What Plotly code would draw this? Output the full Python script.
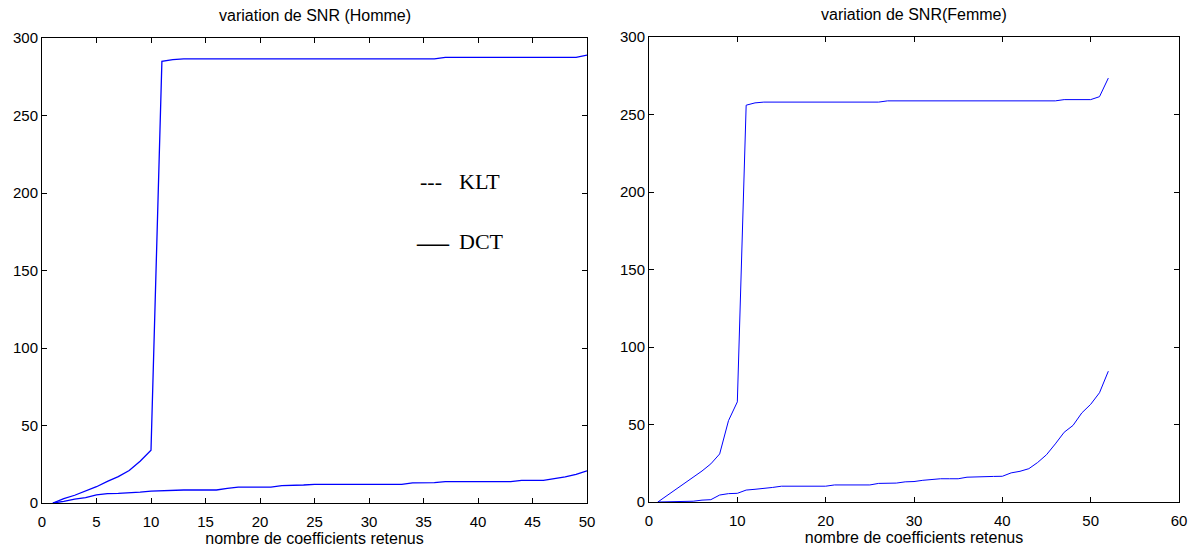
import plotly.graph_objects as go

# ---------------- data ----------------
coef_homme = [1, 2, 3, 4, 5, 6, 7, 8, 9, 10, 11, 12, 13, 14, 15, 16, 17, 18, 19, 20,
              21, 22, 23, 24, 25, 26, 27, 28, 29, 30, 31, 32, 33, 34, 35, 36, 37, 38, 39, 40,
              41, 42, 43, 44, 45, 46, 47, 48, 49, 50]
snr_homme_klt = [0, 2.8, 5, 7.5, 10.5, 14, 17, 21, 27, 34,
                 285, 286, 286.5, 286.5, 286.5, 286.5, 286.5, 286.5, 286.5, 286.5,
                 286.5, 286.5, 286.5, 286.5, 286.5, 286.5, 286.5, 286.5, 286.5, 286.5,
                 286.5, 286.5, 286.5, 286.5, 286.5, 286.5, 287.5, 287.5, 287.5, 287.5,
                 287.5, 287.5, 287.5, 287.5, 287.5, 287.5, 287.5, 287.5, 287.5, 289]
snr_homme_dct = [0, 1, 2.5, 3.5, 5.3, 6, 6.2, 6.5, 7, 7.7,
                 8, 8.4, 8.4, 8.4, 8.4, 8.4, 9.5, 10.3, 10.3, 10.3,
                 10.3, 11.2, 11.2, 11.6, 12, 12, 12, 12, 12, 12,
                 12, 12, 12, 13, 13.1, 13.1, 13.8, 13.8, 13.8, 13.8,
                 13.8, 13.8, 13.8, 14.6, 14.6, 14.6, 15.7, 16.8, 18.5, 20.8]

coef_femme = [1, 2, 3, 4, 5, 6, 7, 8, 9, 10, 11, 12, 13, 14, 15, 16, 17, 18, 19, 20,
              21, 22, 23, 24, 25, 26, 27, 28, 29, 30, 31, 32, 33, 34, 35, 36, 37, 38, 39, 40,
              41, 42, 43, 44, 45, 46, 47, 48, 49, 50, 51, 52]
snr_femme_klt = [0, 4, 8, 12, 15.5, 20, 24.6, 31, 52.5, 64.6,
                 256, 257.5, 258, 258, 258, 258, 258, 258, 258, 258,
                 258, 258, 258, 258, 258, 258, 258.8, 258.8, 258.8, 258.8,
                 258.8, 258.8, 258.8, 258.8, 258.8, 258.8, 258.8, 258.8, 258.8, 258.8,
                 258.8, 258.8, 258.8, 258.8, 258.8, 258.8, 259.6, 259.6, 259.6, 259.6,
                 261.5, 273.5]
snr_femme_dct = [0, 0.2, 0.3, 0.4, 0.5, 1.2, 1.5, 4.5, 5.4, 5.6,
                 7.7, 8.2, 8.7, 9.4, 10.2, 10.2, 10.2, 10.2, 10.2, 10.2,
                 11, 11, 11, 11, 11, 12, 12, 12.2, 13, 13.2,
                 14, 14.5, 15, 15, 15, 16, 16.3, 16.5, 16.5, 16.6,
                 18.8, 19.8, 21.5, 25.5, 30.5, 37.5, 45, 49.4, 57.5, 63,
                 70.5, 84.4]

titles = ["variation de SNR (Homme)", "variation de SNR(Femme)"]
x_label = "nombre de coefficients retenus"
legend_labels = ["KLT", "DCT"]
x_ticks_homme = [0, 5, 10, 15, 20, 25, 30, 35, 40, 45, 50]
x_ticks_femme = [0, 10, 20, 30, 40, 50, 60]
y_ticks = [0, 50, 100, 150, 200, 250, 300]

# ---------------- layout geometry ----------------
W, H = 1198, 552
def px_x(p): return p / W
def px_y(p): return 1 - p / H

dom_x1 = [px_x(42), px_x(587)]
dom_y1 = [px_y(503), px_y(38)]
dom_x2 = [px_x(649), px_x(1179)]
dom_y2 = [px_y(502), px_y(37)]

blue = "#0000FF"
sans = "Liberation Sans, Arial, sans-serif"
serif = "Liberation Serif, Times New Roman, serif"

fig = go.Figure()
fig.add_trace(go.Scatter(x=coef_homme, y=snr_homme_klt, mode="lines", name="KLT",
                         line=dict(color=blue, width=1.3), xaxis="x", yaxis="y"))
fig.add_trace(go.Scatter(x=coef_homme, y=snr_homme_dct, mode="lines", name="DCT",
                         line=dict(color=blue, width=1.3), xaxis="x", yaxis="y"))
fig.add_trace(go.Scatter(x=coef_femme, y=snr_femme_klt, mode="lines", name="KLT",
                         line=dict(color=blue, width=1), xaxis="x2", yaxis="y2"))
fig.add_trace(go.Scatter(x=coef_femme, y=snr_femme_dct, mode="lines", name="DCT",
                         line=dict(color=blue, width=1), xaxis="x2", yaxis="y2"))

axis_common = dict(showline=True, linecolor="black", linewidth=1, mirror="ticks",
                   ticks="inside", ticklen=5, tickcolor="black", tickwidth=1,
                   showgrid=False, zeroline=False, automargin=False,
                   tickfont=dict(family=sans, size=15, color="black"))
x_title = dict(text=x_label, font=dict(family=sans, size=16, color="black"), standoff=2)

fig.update_layout(
    width=W, height=H,
    margin=dict(l=0, r=0, t=0, b=0),
    paper_bgcolor="white", plot_bgcolor="white",
    showlegend=False,
    xaxis=dict(domain=dom_x1, range=[0, 50], tickvals=x_ticks_homme, anchor="y",
               ticklabelstandoff=5, title=x_title, **axis_common),
    yaxis=dict(domain=dom_y1, range=[0, 300], tickvals=y_ticks, anchor="x", **axis_common),
    xaxis2=dict(domain=dom_x2, range=[0, 60], tickvals=x_ticks_femme, anchor="y2",
                ticklabelstandoff=5, title=x_title, **axis_common),
    yaxis2=dict(domain=dom_y2, range=[0, 300], tickvals=y_ticks, anchor="x2", **axis_common),
)

# titles
fig.add_annotation(text=titles[0], xref="paper", yref="paper",
                   x=(dom_x1[0] + dom_x1[1]) / 2, y=px_y(15), xanchor="center", yanchor="middle",
                   showarrow=False, font=dict(family=sans, size=16, color="black"))
fig.add_annotation(text=titles[1], xref="paper", yref="paper",
                   x=(dom_x2[0] + dom_x2[1]) / 2, y=px_y(14), xanchor="center", yanchor="middle",
                   showarrow=False, font=dict(family=sans, size=16, color="black"))

# hand-made legend text in the left panel
fig.add_annotation(text="---", xref="paper", yref="paper",
                   x=px_x(418), y=px_y(181), xanchor="left", yanchor="middle",
                   showarrow=False, font=dict(family=serif, size=22, color="black"))
fig.add_annotation(text=legend_labels[0], xref="paper", yref="paper",
                   x=px_x(457), y=px_y(181), xanchor="left", yanchor="middle",
                   showarrow=False, font=dict(family=serif, size=22, color="black"))
fig.add_annotation(text="\u2014", xref="paper", yref="paper",
                   x=px_x(414), y=px_y(242), xanchor="left", yanchor="middle",
                   showarrow=False, font=dict(family=serif, size=32, color="black"))
fig.add_annotation(text=legend_labels[1], xref="paper", yref="paper",
                   x=px_x(457), y=px_y(242), xanchor="left", yanchor="middle",
                   showarrow=False, font=dict(family=serif, size=22, color="black"))

fig.write_html("out.html", config={"displayModeBar": False},
               post_script="document.body.style.margin='0px';")
